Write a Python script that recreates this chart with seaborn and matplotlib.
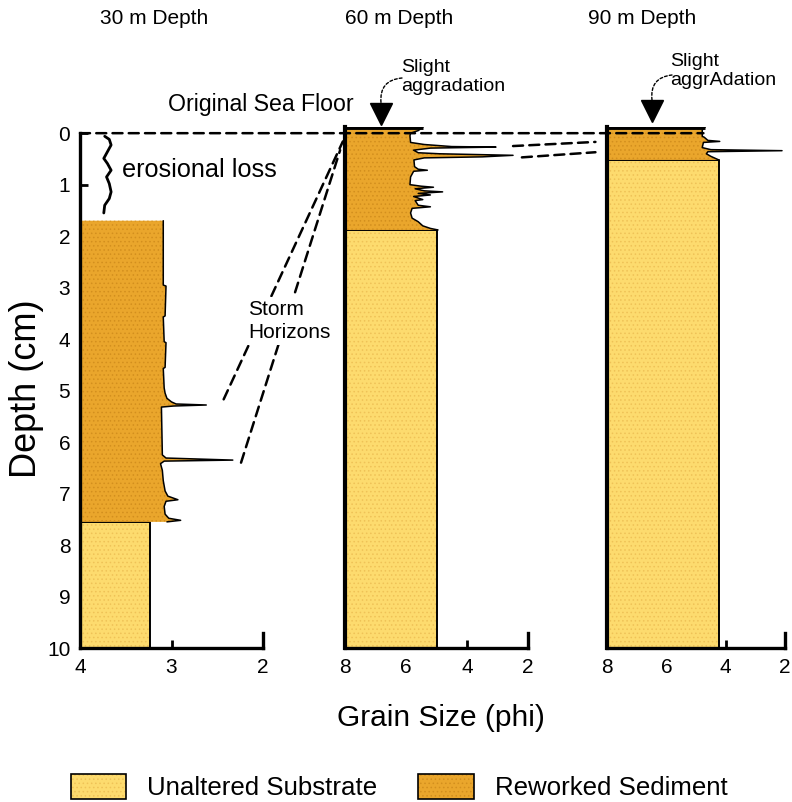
import numpy as np
import matplotlib
matplotlib.use("Agg")
import matplotlib.pyplot as plt
from matplotlib.patches import Patch, ConnectionPatch
from matplotlib.lines import Line2D
from matplotlib.legend_handler import HandlerTuple
import seaborn as sns

# core titles and grain size axes
cores = ["30 m Depth", "60 m Depth", "90 m Depth"]
phi_left = [4, 8, 8]
phi_ticks = [[4, 3, 2], [8, 6, 4, 2], [8, 6, 4, 2]]
depth_ticks = list(range(0, 11))

# reworked sediment profiles (depth cm, grain size phi)
depth_30 = [1.70, 2.95, 2.97, 3.55, 3.57, 4.05, 4.07, 4.55, 4.57, 4.95, 5.05, 5.15,
            5.22, 5.26, 5.28, 5.30, 5.32, 6.25, 6.31, 6.35, 6.37, 6.42, 6.55, 6.75,
            6.95, 7.05, 7.12, 7.15, 7.25, 7.40, 7.48, 7.52, 7.55]
phi_30 = [3.09, 3.09, 3.06, 3.07, 3.09, 3.08, 3.06, 3.07, 3.09, 3.08, 3.07, 3.05,
          3.00, 2.95, 2.62, 2.98, 3.11, 3.10, 3.06, 2.33, 3.08, 3.12, 3.10, 3.09,
          3.07, 3.04, 2.93, 3.06, 3.08, 3.07, 3.03, 2.90, 3.05]

depth_60 = [-0.12, -0.05, 0.00, 0.05, 0.18, 0.22, 0.26, 0.27, 0.29, 0.33, 0.38, 0.40,
            0.43, 0.46, 0.48, 0.52, 0.65, 0.70, 0.72, 0.74, 0.85, 1.00, 1.03, 1.05,
            1.08, 1.12, 1.14, 1.17, 1.20, 1.23, 1.29, 1.31, 1.40, 1.43, 1.46, 1.55,
            1.65, 1.72, 1.80, 1.85, 1.88]
phi_60 = [5.44, 5.60, 5.85, 5.87, 5.85, 5.40, 4.50, 3.05, 5.20, 5.75, 5.60, 4.90,
          2.49, 3.50, 5.40, 5.74, 5.72, 5.60, 5.30, 5.75, 5.85, 5.87, 5.50, 5.10,
          5.70, 5.40, 4.80, 5.60, 5.20, 5.75, 5.45, 5.70, 5.60, 5.20, 5.80, 5.85,
          5.80, 5.60, 5.45, 5.20, 4.95]

depth_90 = [-0.12, -0.06, 0.06, 0.08, 0.14, 0.16, 0.18, 0.28, 0.32, 0.34, 0.36, 0.40,
            0.45, 0.52]
phi_90 = [4.69, 4.79, 4.79, 4.72, 4.60, 4.20, 4.75, 4.79, 4.50, 2.10, 4.60, 4.65,
          4.50, 4.23]

rw_depths = [depth_30, depth_60, depth_90]
rw_phis = [phi_30, phi_60, phi_90]

# unaltered substrate: top depth and grain size
sub_top = [7.55, 1.88, 0.52]
sub_phi = [3.24, 4.97, 4.23]
core_bottom = 10

# erosional loss squiggle (30 m core)
squig_phi = [3.73, 3.68, 3.66, 3.70, 3.74, 3.70, 3.66, 3.71, 3.68, 3.66, 3.68, 3.73, 3.74]
squig_depth = [0.06, 0.12, 0.23, 0.36, 0.49, 0.59, 0.72, 0.85, 0.98, 1.14, 1.27, 1.40, 1.55]

# storm horizon correlation lines: (panel, phi, depth) -> (panel, phi, depth)
storm_links = [
    ((0, 2.43, 5.17), (1, 8.07, 0.16)),
    ((0, 2.24, 6.40), (1, 8.16, 0.33)),
    ((1, 2.49, 0.25), (2, 8.39, 0.17)),
    ((1, 2.20, 0.47), (2, 8.39, 0.37)),
]

c_sub, h_sub = "#FDDB6E", "#EFC257"
c_rw, h_rw = "#EAA62C", "#D38F1E"

sns.set_style("ticks")
plt.rcParams["font.family"] = ["Liberation Sans", "DejaVu Sans"]
plt.rcParams["hatch.linewidth"] = 0.6
for key in ["text.color", "axes.labelcolor", "xtick.color", "ytick.color", "axes.edgecolor"]:
    plt.rcParams[key] = "black"

W, H = 792, 802
fig = plt.figure(figsize=(W / 100, H / 100), dpi=100)


def px(x, y):
    return x / W, 1 - y / H


lefts = [80, 345, 607]
widths = [183, 183, 178]
axes = []
for i in range(3):
    ax = fig.add_axes([lefts[i] / W, 1 - 648 / H, widths[i] / W, 521 / H])
    axes.append(ax)
    x0 = phi_left[i]

    ax.fill_betweenx([sub_top[i], core_bottom], x0, sub_phi[i],
                     facecolor=c_sub, edgecolor=h_sub, hatch="....", lw=0)
    ax.fill_betweenx([sub_top[i], core_bottom], x0, sub_phi[i],
                     facecolor="none", edgecolor="k", lw=1.4)
    ax.fill_betweenx(rw_depths[i], x0, rw_phis[i],
                     facecolor=c_rw, edgecolor=h_rw, hatch="....", lw=0)
    sns.lineplot(x=rw_phis[i], y=rw_depths[i], sort=False, estimator=None,
                 color="k", lw=1.1, ax=ax)
    if i > 0:
        # aggraded surface on top of the core
        ax.plot([x0, rw_phis[i][0]], [rw_depths[i][0], rw_depths[i][0]],
                color="k", lw=3.5, solid_capstyle="butt")

    ax.set_xlim(x0, 2)
    ax.set_ylim(core_bottom, -0.12)
    ax.set_xticks(phi_ticks[i])
    ax.set_yticks(depth_ticks)
    if i > 0:
        ax.set_yticklabels([])
    ax.tick_params(direction="in", length=6, width=2, labelsize=15, pad=7)
    ax.spines["top"].set_visible(False)
    ax.spines["right"].set_bounds(9.7, 10)
    for s in ["left", "bottom", "right"]:
        ax.spines[s].set_linewidth(2.4)
    if i == 0:
        ax.spines["left"].set_bounds(0, 10)
    else:
        ax.spines["left"].set_linewidth(3)
    ax.set_xlabel("")
    ax.set_ylabel("")

axes[0].plot(squig_phi, squig_depth, color="k", lw=2)

dash = (0, (4, 2.5))
sea_floor = ConnectionPatch(xyA=(4.0, 0.0), coordsA=axes[0].transData,
                            xyB=(4.75, 0.0), coordsB=axes[2].transData,
                            color="k", lw=1.8, ls=dash)
fig.add_artist(sea_floor)
for (pa, xa, ya), (pb, xb, yb) in storm_links:
    fig.add_artist(ConnectionPatch(xyA=(xa, ya), coordsA=axes[pa].transData,
                                   xyB=(xb, yb), coordsB=axes[pb].transData,
                                   color="k", lw=1.8, ls=dash))

# titles
for x, t in zip([100, 345, 588], cores):
    fig.text(*px(x, 18), t, fontsize=15, ha="left", va="center")

fig.text(*px(27, 389), "Depth (cm)", fontsize=26, rotation=90, ha="center", va="center")
fig.text(*px(441, 718), "Grain Size (phi)", fontsize=21.5, ha="center", va="center")

fig.text(*px(168, 104), "Original Sea Floor", fontsize=16.7, ha="left", va="center")
fig.text(*px(122, 170), "erosional loss", fontsize=18.2, ha="left", va="center")
fig.text(*px(248, 321), "Storm\nHorizons", fontsize=15, ha="left", va="center",
         linespacing=1.25, zorder=5,
         bbox=dict(facecolor="white", edgecolor="none", pad=2))
fig.text(*px(401, 77), "Slight\naggradation", fontsize=14, ha="left", va="center",
         linespacing=1.1)
fig.text(*px(670, 71), "Slight\naggrAdation", fontsize=14, ha="left", va="center",
         linespacing=1.1)

# curved pointers to the aggraded core tops
curve = dict(arrowstyle="-", color="k", lw=1, ls=(0, (2, 1.5)), shrinkA=0, shrinkB=0,
             connectionstyle="arc3,rad=0.5")
for start, end in [((402, 78), (381, 103)), ((672, 75), (652, 100))]:
    fig.add_artist(matplotlib.text.Annotation(
        "", xy=px(*end), xycoords="figure fraction", xytext=px(*start),
        textcoords="figure fraction", arrowprops=curve))
    fig.add_artist(Line2D([px(*end)[0]], [px(end[0], end[1] + 11)[1]], marker="v",
                          ms=16, color="k", transform=fig.transFigure))

handles = [
    (Patch(facecolor=c_sub, edgecolor=h_sub, hatch="....", lw=0),
     Patch(facecolor="none", edgecolor="k", lw=1.2)),
    (Patch(facecolor=c_rw, edgecolor=h_rw, hatch="....", lw=0),
     Patch(facecolor="none", edgecolor="k", lw=1.2)),
]
fig.legend(handles, ["Unaltered Substrate", "Reworked Sediment"], ncol=2,
           loc="center", bbox_to_anchor=px(399, 787), frameon=False, fontsize=18.6,
           handlelength=2.15, handleheight=1.1, handletextpad=0.8, columnspacing=1.6,
           handler_map={tuple: HandlerTuple(ndivide=1)})

fig.savefig("out.png", dpi=100)
